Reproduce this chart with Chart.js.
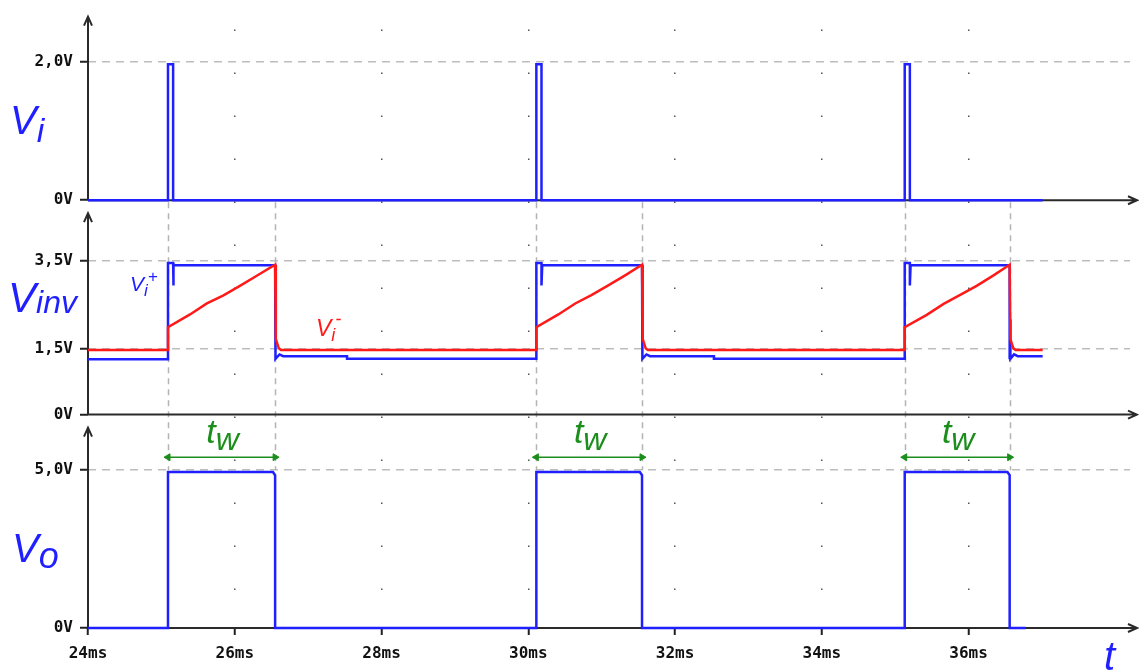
<!DOCTYPE html>
<html lang="en">
<head>
  <meta charset="UTF-8" />
  <title>Comparator timing: Vi, Vinv, Vo</title>
  <script src="https://cdn.jsdelivr.net/npm/chart.js"></script>
  <style>
    body { margin: 0; background: #fff; overflow: hidden; }
    #wrap { position: relative; width: 1139px; height: 671px; }
    .lbl { position: absolute; font-family: "Liberation Sans", Arial, sans-serif; font-style: italic; line-height: 1; white-space: nowrap; }
    .lbl span { position: relative; }
    .blue { color: #1f1fff; }
    .red { color: #ff1a1a; }
    .green { color: #1b8e1b; }
  </style>
</head>
<body>
  <div id="wrap">
    <canvas id="scope"></canvas>
    <div class="lbl blue" style="left:10px; top:100px; font-size:40px;">V<span style="font-size:34px; top:8px;">i</span></div>
    <div class="lbl blue" style="left:8px; top:277px; font-size:42px;">V<span style="font-size:32px; top:1px;">inv</span></div>
    <div class="lbl blue" style="left:12px; top:528px; font-size:40px;">V<span style="font-size:36px; top:6px;">o</span></div>
    <div class="lbl blue" style="left:130px; top:273px; font-size:21px;">V<span style="font-size:17px; top:5px;">i</span><span style="font-size:17px; top:-9px;">+</span></div>
    <div class="lbl red" style="left:316px; top:317px; font-size:23px;">V<span style="font-size:18px; top:5px;">i</span><span style="font-size:18px; top:-11px;">-</span></div>
    <div class="lbl blue" style="left:1104px; top:636px; font-size:40px;">t</div>
  </div>
  <script>
    // time axis (ms)
    const xTicks = [24, 26, 28, 30, 32, 34, 36];
    const edgeRise = [25.09, 30.11, 35.13];
    const edgeFall = [26.55, 31.55, 36.56];

    // y tick values and their labels, per panel
    const viTicks = [0, 2.0];
    const viTickText = ['0V', '2,0V'];
    const invTicks = [0, 1.5, 3.5];
    const invTickText = ['0V', '1,5V', '3,5V'];
    const voTicks = [0, 5.0];
    const voTickText = ['0V', '5,0V'];

    // Vi : trigger pulses
    const viT = [24.0, 25.09, 25.09, 25.16, 25.16, 30.11, 30.11, 30.18, 30.18, 35.13, 35.13, 35.20, 35.20, 37.01];
    const viV = [0, 0, 1.97, 1.97, 0, 0, 1.97, 1.97, 0, 0, 1.97, 1.97, 0, 0];

    // Vi+ (blue) on the inverting panel
    const vpT = [24.0, 25.09, 25.09, 25.16, 25.16, 25.17, 26.55, 26.55, 26.555, 26.56, 26.61, 26.66, 27.53, 27.53,
                 30.11, 30.11, 30.18, 30.18, 30.19, 31.55, 31.55, 31.555, 31.56, 31.61, 31.66, 32.53, 32.53,
                 35.13, 35.13, 35.20, 35.20, 35.21, 36.56, 36.56, 36.565, 36.57, 36.62, 36.67, 37.01];
    const vpV = [1.26, 1.26, 3.45, 3.45, 2.94, 3.40, 3.40, 1.26, 2.17, 1.27, 1.37, 1.33, 1.33, 1.27,
                 1.27, 3.45, 3.45, 2.94, 3.40, 3.40, 1.26, 2.17, 1.27, 1.37, 1.33, 1.33, 1.27,
                 1.27, 3.45, 3.45, 2.94, 3.40, 3.40, 1.26, 2.17, 1.27, 1.37, 1.33, 1.33];

    // Vi- (red) : capacitor voltage
    const vmT = [24.0, 25.09, 25.09, 25.39, 25.62, 25.84, 26.07, 26.30, 26.55, 26.56, 26.60, 26.63,
                 30.11, 30.11, 30.41, 30.64, 30.86, 31.09, 31.32, 31.55, 31.56, 31.60, 31.63,
                 35.13, 35.13, 35.43, 35.66, 35.88, 36.11, 36.34, 36.56, 36.57, 36.61, 36.64, 37.01];
    const vmV = [1.47, 1.47, 1.99, 2.28, 2.53, 2.71, 2.93, 3.16, 3.41, 1.72, 1.51, 1.47,
                 1.47, 1.99, 2.28, 2.53, 2.72, 2.94, 3.17, 3.41, 1.72, 1.51, 1.47,
                 1.47, 1.99, 2.27, 2.52, 2.72, 2.93, 3.17, 3.41, 1.72, 1.51, 1.47, 1.47];

    // Vo : output pulses
    const voT = [24.0, 25.09, 25.09, 26.52, 26.55, 26.55, 30.11, 30.11, 31.52, 31.55, 31.55, 35.13, 35.13, 36.53, 36.56, 36.56, 36.78];
    const voV = [0, 0, 4.94, 4.94, 4.84, 0, 0, 4.94, 4.94, 4.84, 0, 0, 4.94, 4.94, 4.84, 0, 0];

    // tw markers (drawn on the Vo panel)
    const twT = [25.09, 26.55, null, 30.11, 31.55, null, 35.13, 36.56];
    const twV = [5.41, 5.41, null, 5.41, 5.41, null, 5.41, 5.41];

    const BLUE = '#1f1fff', RED = '#ff1a1a', GREEN = '#1b8e1b';
    const tickFont = { family: 'DejaVu Sans Mono', size: 16, weight: 'bold' };

    const pts = (t, v) => t.map((x, i) => ({ x: x, y: v[i] }));

    function panelAxis(ticks, texts, max, weight) {
      return {
        type: 'linear',
        position: 'left',
        stack: 'panels',
        stackWeight: weight,
        min: 0,
        max: max,
        afterFit: s => { s.width = 88; },
        afterBuildTicks: s => { s.ticks = ticks.map(v => ({ value: v })); },
        ticks: { callback: (v, i) => texts[i], font: tickFont, color: '#111', padding: 7 },
        grid: {
          color: c => (c.tick && c.tick.value === 0) ? 'rgba(0,0,0,0)' : '#bdbdbd',
          lineWidth: 1.5,
          tickColor: '#222',
          tickWidth: 2,
          tickLength: 8
        },
        border: { display: false, dash: [8, 6] }
      };
    }

    // axis lines with arrowheads, dashed edge markers
    const scopeDeco = {
      id: 'scopeDeco',
      beforeDatasetsDraw(chart) {
        const ctx = chart.ctx, ca = chart.chartArea, sx = chart.scales.x;
        const yI = chart.scales.yI, yInv = chart.scales.yInv, yO = chart.scales.yO;
        ctx.save();
        ctx.strokeStyle = '#b4b4b4';
        ctx.lineWidth = 1.5;
        ctx.setLineDash([6, 5]);
        edgeRise.concat(edgeFall).forEach(t => {
          const px = Math.round(sx.getPixelForValue(t)) + 0.5;
          ctx.beginPath();
          ctx.moveTo(px, yI.getPixelForValue(0) + 2);
          ctx.lineTo(px, yO.getPixelForValue(voTicks[1]));
          ctx.stroke();
        });
        ctx.setLineDash([]);
        ctx.strokeStyle = '#2a2a2a';
        ctx.lineWidth = 2;
        [[yI, 0], [yInv, 13], [yO, 13]].forEach(([s, gap]) => {
          const x0 = ca.left, y0 = s.getPixelForValue(0), top = s.top + gap;
          ctx.beginPath();
          ctx.moveTo(x0, y0);
          ctx.lineTo(x0, top);
          ctx.moveTo(x0 - 4, top + 9);
          ctx.lineTo(x0, top);
          ctx.lineTo(x0 + 4, top + 9);
          const xr = ca.right + 7;
          ctx.moveTo(x0, y0);
          ctx.lineTo(xr, y0);
          ctx.moveTo(xr - 9, y0 - 4);
          ctx.lineTo(xr, y0);
          ctx.lineTo(xr - 9, y0 + 4);
          ctx.stroke();
        });
        ctx.restore();
      }
    };

    const chart = new Chart(document.getElementById('scope'), {
      type: 'line',
      data: {
        datasets: [
          { label: 'Vi', data: pts(viT, viV), yAxisID: 'yI', borderColor: BLUE, borderWidth: 2.5, order: 1, clip: 4 },
          { label: 'Vi+', data: pts(vpT, vpV), yAxisID: 'yInv', borderColor: BLUE, borderWidth: 2.5, order: 2, clip: 4 },
          { label: 'Vi-', data: pts(vmT, vmV), yAxisID: 'yInv', borderColor: RED, borderWidth: 2.5, order: 0, clip: 4 },
          { label: 'Vo', data: pts(voT, voV), yAxisID: 'yO', borderColor: BLUE, borderWidth: 2.5, order: 1, clip: 4 },
          {
            label: 'tw', data: pts(twT, twV), yAxisID: 'yO', borderColor: GREEN, borderWidth: 1.5, order: 0,
            spanGaps: false,
            pointStyle: 'triangle',
            pointRadius: c => (c.raw && c.raw.y !== null) ? 4 : 0,
            pointRotation: c => (c.dataIndex % 3 === 0) ? 270 : 90,
            pointBackgroundColor: GREEN,
            pointBorderColor: GREEN,
            pointBorderWidth: 1
          }
        ]
      },
      options: {
        responsive: true,
        maintainAspectRatio: false,
        animation: false,
        layout: { padding: { top: 12, right: 9, left: 0, bottom: 0 } },
        elements: { point: { radius: 0 }, line: { tension: 0 } },
        plugins: { legend: { display: false }, tooltip: { enabled: false } },
        scales: {
          x: {
            type: 'linear',
            min: 24,
            max: 38.2,
            afterFit: s => { s.height = 43; },
            afterBuildTicks: s => { s.ticks = xTicks.map(v => ({ value: v })); },
            ticks: { callback: v => v + 'ms', font: tickFont, color: '#111', padding: 9, maxRotation: 0 },
            grid: {
              color: c => (c.tick && c.tick.value === 24) ? 'rgba(0,0,0,0)' : '#555',
              lineWidth: 1.5,
              tickColor: '#222',
              tickWidth: 2,
              tickLength: 7
            },
            border: { display: false, dash: [1.5, 41.5], dashOffset: 30 }
          },
          yO: panelAxis(voTicks, voTickText, 6.76, 215),
          yInv: panelAxis(invTicks, invTickText, 4.88, 216),
          yI: panelAxis(viTicks, viTickText, 2.66, 185)
        }
      },
      plugins: [scopeDeco]
    });

    // tw labels centred over each marker
    const wrap = document.getElementById('wrap');
    edgeRise.forEach((r, i) => {
      const mid = chart.scales.x.getPixelForValue((r + edgeFall[i]) / 2);
      const d = document.createElement('div');
      d.className = 'lbl green';
      d.style.cssText = 'left:' + (mid + 1) + 'px; top:414px; font-size:34px; transform:translateX(-50%);';
      d.innerHTML = 't<span style="font-size:32px; top:7px;">w</span>';
      wrap.appendChild(d);
    });
  </script>
</body>
</html>
